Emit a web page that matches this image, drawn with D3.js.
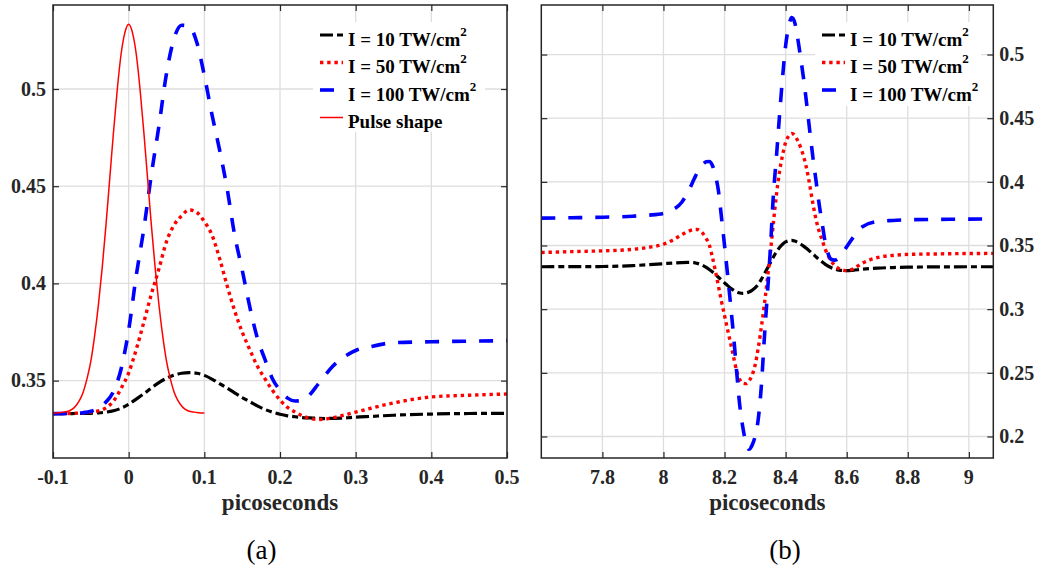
<!DOCTYPE html>
<html lang="en">

<head>
    <meta charset="UTF-8">
    <title>Picoseconds</title>
    <style>
        body {
            margin: 0;
            background: #fff;
        }

        svg {
            display: block;
            font-family: 'Liberation Serif', 'Times New Roman', serif;
        }

        .tick line {
            stroke: #262626;
            stroke-width: 1.2;
        }

        .grid line {
            stroke: #dedede;
            stroke-width: 1.3;
        }

        .frame {
            fill: none;
            stroke: #262626;
            stroke-width: 1.5;
        }

        .ticklabel {
            fill: #262626;
            font-size: 20px;
            font-weight: bold;
        }

        .xlabel {
            fill: #262626;
            font-size: 23px;
            font-weight: bold;
        }

        .legend text {
            fill: #000;
            font-size: 19px;
            font-weight: bold;
        }

        .caption {
            fill: #000;
            font-size: 27px;
        }
    </style>
</head>

<body>
    <div id="chart"></div>
</body>

</html>
<script src="https://cdnjs.cloudflare.com/ajax/libs/d3/7.8.5/d3.min.js"></script>
<script>
    // ---- data (a) ----
    const leftTime = [-0.10, -0.09, -0.08, -0.07, -0.06, -0.05, -0.04, -0.03, -0.02, -0.01,
        0.00, 0.01, 0.02, 0.03, 0.04, 0.05, 0.06, 0.07, 0.08, 0.09,
        0.10, 0.11, 0.12, 0.13, 0.14, 0.15, 0.16, 0.17, 0.18, 0.19,
        0.20, 0.21, 0.22, 0.23, 0.24, 0.25, 0.26, 0.27, 0.28, 0.29,
        0.30, 0.32, 0.35, 0.40, 0.45, 0.50];
    const leftI10 = [0.3330, 0.3330, 0.3330, 0.3331, 0.3331, 0.3332, 0.3334, 0.3338, 0.3345, 0.3358,
        0.3378, 0.3405, 0.3432, 0.3462, 0.3490, 0.3512, 0.3528, 0.3538, 0.3541, 0.3538,
        0.3527, 0.3508, 0.3485, 0.3462, 0.3437, 0.3413, 0.3392, 0.3370, 0.3352, 0.3338,
        0.3327, 0.3319, 0.3314, 0.3310, 0.3308, 0.3306, 0.3305, 0.3306, 0.3307, 0.3309,
        0.3312, 0.3316, 0.3322, 0.3328, 0.3331, 0.3332];
    const leftI50 = [0.3330, 0.3330, 0.3331, 0.3332, 0.3335, 0.3338, 0.3344, 0.3360, 0.3395, 0.3460,
        0.3540, 0.3660, 0.3800, 0.3945, 0.4075, 0.4215, 0.4300, 0.4348, 0.4378, 0.4365,
        0.4318, 0.4250, 0.4130, 0.3990, 0.3860, 0.3750, 0.3660, 0.3575, 0.3510, 0.3450,
        0.3400, 0.3362, 0.3338, 0.3318, 0.3305, 0.3300, 0.3302, 0.3309, 0.3318, 0.3328,
        0.3338, 0.3358, 0.3385, 0.3416, 0.3425, 0.3431];
    const leftI100 = [0.3330, 0.3330, 0.3331, 0.3332, 0.3335, 0.3342, 0.3358, 0.3390, 0.3445, 0.3560,
        0.3760, 0.4040, 0.4280, 0.4560, 0.4810, 0.5080, 0.5260, 0.5328, 0.5322, 0.5240,
        0.5070, 0.4870, 0.4690, 0.4490, 0.4250, 0.4070, 0.3880, 0.3720, 0.3610, 0.3510,
        0.3450, 0.3410, 0.3395, 0.3398, 0.3430, 0.3480, 0.3530, 0.3575, 0.3610, 0.3635,
        0.3655, 0.3675, 0.3695, 0.3700, 0.3703, 0.3705];
    const pulseTime = [-0.100, -0.095, -0.090, -0.085, -0.080, -0.075, -0.070, -0.065, -0.060, -0.055,
        -0.050, -0.045, -0.040, -0.035, -0.030, -0.025, -0.020, -0.015, -0.010, -0.005,
        0.000, 0.005, 0.010, 0.015, 0.020, 0.025, 0.030, 0.035, 0.040, 0.045,
        0.050, 0.055, 0.060, 0.065, 0.070, 0.075, 0.080, 0.085, 0.090, 0.095, 0.100];
    const pulseShape = [0.3333, 0.3334, 0.3336, 0.3339, 0.3342, 0.3352, 0.3370, 0.3398, 0.3442, 0.3510,
        0.3600, 0.3730, 0.3890, 0.4080, 0.4300, 0.4540, 0.4780, 0.5000, 0.5180, 0.5290,
        0.5333, 0.5290, 0.5180, 0.5000, 0.4780, 0.4540, 0.4300, 0.4080, 0.3890, 0.3730,
        0.3600, 0.3510, 0.3442, 0.3398, 0.3370, 0.3352, 0.3342, 0.3339, 0.3336, 0.3334, 0.3333];

    // ---- data (b) ----
    const rightTime = [7.60, 7.70, 7.80, 7.90, 7.95, 8.00, 8.03, 8.06, 8.08,
        8.10, 8.11, 8.12, 8.13, 8.14, 8.15, 8.16, 8.17, 8.18, 8.19,
        8.20, 8.21, 8.22, 8.23, 8.24, 8.25, 8.26, 8.27, 8.28, 8.29,
        8.30, 8.31, 8.32, 8.33, 8.34, 8.35, 8.36, 8.37, 8.38, 8.39,
        8.40, 8.41, 8.42, 8.43, 8.44, 8.45, 8.46, 8.47, 8.48, 8.49,
        8.50, 8.51, 8.52, 8.53, 8.54, 8.55, 8.56, 8.57, 8.58, 8.59,
        8.60, 8.62, 8.65, 8.70, 8.75, 8.80, 8.90, 9.00, 9.08];
    const rightI10 = [0.3333, 0.3334, 0.3335, 0.3342, 0.3349, 0.3357, 0.3362, 0.3366, 0.3367,
        0.3365, 0.3360, 0.3353, 0.3342, 0.3328, 0.3312, 0.3294, 0.3273, 0.3251, 0.3229,
        0.3207, 0.3185, 0.3165, 0.3147, 0.3135, 0.3127, 0.3124, 0.3127, 0.3135, 0.3148,
        0.3167, 0.3195, 0.3232, 0.3275, 0.3320, 0.3365, 0.3410, 0.3450, 0.3485, 0.3510,
        0.3528, 0.3537, 0.3540, 0.3535, 0.3524, 0.3510, 0.3493, 0.3474, 0.3453, 0.3432,
        0.3410, 0.3390, 0.3370, 0.3352, 0.3337, 0.3325, 0.3316, 0.3309, 0.3305, 0.3303,
        0.3302, 0.3305, 0.3313, 0.3322, 0.3327, 0.3330, 0.3332, 0.3333, 0.3333];
    const rightI50 = [0.3445, 0.3452, 0.3458, 0.3470, 0.3485, 0.3510, 0.3542, 0.3585, 0.3610,
        0.3625, 0.3626, 0.3615, 0.3592, 0.3555, 0.3505, 0.3410, 0.3300, 0.3180, 0.3060,
        0.2950, 0.2840, 0.2730, 0.2620, 0.2510, 0.2445, 0.2418, 0.2415, 0.2435, 0.2480,
        0.2560, 0.2690, 0.2850, 0.3030, 0.3230, 0.3440, 0.3680, 0.3900, 0.4080, 0.4210,
        0.4310, 0.4360, 0.4380, 0.4365, 0.4320, 0.4265, 0.4190, 0.4090, 0.3960, 0.3820,
        0.3700, 0.3610, 0.3540, 0.3470, 0.3415, 0.3375, 0.3345, 0.3325, 0.3312, 0.3305,
        0.3302, 0.3315, 0.3360, 0.3405, 0.3422, 0.3430, 0.3434, 0.3437, 0.3438];
    const rightI100 = [0.3715, 0.3718, 0.3722, 0.3730, 0.3738, 0.3752, 0.3780, 0.3840, 0.3920,
        0.4020, 0.4070, 0.4110, 0.4140, 0.4157, 0.4160, 0.4130, 0.4050, 0.3930, 0.3720,
        0.3500, 0.3270, 0.3030, 0.2780, 0.2500, 0.2240, 0.2070, 0.1950, 0.1900, 0.1930,
        0.2000, 0.2130, 0.2380, 0.2760, 0.3110, 0.3470, 0.3900, 0.4200, 0.4520, 0.4820,
        0.5070, 0.5220, 0.5290, 0.5250, 0.5120, 0.4960, 0.4790, 0.4590, 0.4380, 0.4180,
        0.4000, 0.3820, 0.3670, 0.3520, 0.3430, 0.3390, 0.3385, 0.3395, 0.3420, 0.3455,
        0.3490, 0.3560, 0.3645, 0.3688, 0.3697, 0.3702, 0.3705, 0.3707, 0.3708];

    // ---- ticks / labels ----
    const leftXTicks = [-0.1, 0, 0.1, 0.2, 0.3, 0.4, 0.5];
    const leftYTicks = [0.35, 0.4, 0.45, 0.5];
    const rightXTicks = [7.8, 8, 8.2, 8.4, 8.6, 8.8, 9];
    const rightYTicks = [0.2, 0.25, 0.3, 0.35, 0.4, 0.45, 0.5];
    const intensityLabels = ['I = 10 TW/cm', 'I = 50 TW/cm', 'I = 100 TW/cm'];
    const pulseLabel = 'Pulse shape';
    const axisTitle = 'picoseconds';

    // line styles (thick MATLAB-like dash patterns)
    const styles = {
        i10: { color: '#000000', width: 3.2, dash: '13,4,6,4' },
        i50: { color: '#ff0000', width: 3.4, dash: '3.4,3.8' },
        i100: { color: '#0000ff', width: 3.6, dash: '14,13' },
        pulse: { color: '#ff0000', width: 1.5, dash: null }
    };

    const svg = d3.select('#chart').append('svg')
        .attr('width', 1044)
        .attr('height', 572);

    function zip(xs, ys) {
        return xs.map(function (x, i) { return [x, ys[i]]; });
    }

    // plain hyphen for negative numbers, like the original
    function fmt(d) {
        return String(+d.toFixed(3));
    }

    function drawPanel(p) {
        var xScale = d3.scaleLinear().domain(p.xDomain).range([p.left, p.right]);
        var yScale = d3.scaleLinear().domain(p.yDomain).range([p.bottom, p.top]);
        var g = svg.append('g');

        // grid
        var grid = g.append('g').attr('class', 'grid');
        grid.selectAll('.gx').data(p.xTicks).enter().append('line')
            .attr('x1', function (d) { return xScale(d); })
            .attr('x2', function (d) { return xScale(d); })
            .attr('y1', p.top).attr('y2', p.bottom);
        grid.selectAll('.gy').data(p.yTicks).enter().append('line')
            .attr('y1', function (d) { return yScale(d); })
            .attr('y2', function (d) { return yScale(d); })
            .attr('x1', p.left).attr('x2', p.right);

        // curves
        var clipId = 'clip' + p.name;
        svg.append('clipPath').attr('id', clipId).append('rect')
            .attr('x', p.left).attr('y', p.top)
            .attr('width', p.right - p.left).attr('height', p.bottom - p.top);
        var line = d3.line()
            .x(function (d) { return xScale(d[0]); })
            .y(function (d) { return yScale(d[1]); })
            .curve(d3.curveMonotoneX);
        var curves = g.append('g').attr('clip-path', 'url(#' + clipId + ')');
        p.series.forEach(function (s) {
            curves.append('path')
                .attr('d', line(s.points))
                .attr('fill', 'none')
                .attr('stroke', s.style.color)
                .attr('stroke-width', s.style.width)
                .attr('stroke-dasharray', s.style.dash);
        });

        // axes: tick marks pointing inward on all four sides
        var none = function () { return ''; };
        g.append('g').attr('transform', 'translate(0,' + p.bottom + ')')
            .call(d3.axisBottom(xScale).tickValues(p.xTicks).tickSize(-6).tickFormat(none));
        g.append('g').attr('transform', 'translate(0,' + p.top + ')')
            .call(d3.axisTop(xScale).tickValues(p.xTicks).tickSize(-6).tickFormat(none));
        g.append('g').attr('transform', 'translate(' + p.left + ',0)')
            .call(d3.axisLeft(yScale).tickValues(p.yTicks).tickSize(-6).tickFormat(none));
        g.append('g').attr('transform', 'translate(' + p.right + ',0)')
            .call(d3.axisRight(yScale).tickValues(p.yTicks).tickSize(-6).tickFormat(none));
        g.selectAll('.domain').remove();

        // tick labels
        var labels = g.append('g');
        labels.selectAll('.xl').data(p.xTicks).enter().append('text')
            .attr('class', 'ticklabel')
            .attr('x', function (d) { return xScale(d); })
            .attr('y', p.bottom + 26)
            .attr('text-anchor', 'middle')
            .text(fmt);
        labels.selectAll('.yl').data(p.yTicks).enter().append('text')
            .attr('class', 'ticklabel')
            .attr('x', p.yLabelSide === 'left' ? p.left - 7 : p.right + 6)
            .attr('y', function (d) { return yScale(d); })
            .attr('dy', '0.34em')
            .attr('text-anchor', p.yLabelSide === 'left' ? 'end' : 'start')
            .text(fmt);

        // frame
        g.append('rect').attr('class', 'frame')
            .attr('x', p.left).attr('y', p.top)
            .attr('width', p.right - p.left).attr('height', p.bottom - p.top);

        // x title + caption
        g.append('text').attr('class', 'xlabel')
            .attr('x', (p.left + p.right) / 2).attr('y', 510)
            .attr('text-anchor', 'middle')
            .text(axisTitle);
        g.append('text').attr('class', 'caption')
            .attr('x', p.captionX).attr('y', 559)
            .attr('text-anchor', 'middle')
            .text(p.caption);

        // legend
        var lg = g.append('g').attr('class', 'legend');
        lg.append('rect')
            .attr('x', p.legend.x).attr('y', p.legend.y)
            .attr('width', p.legend.w).attr('height', p.legend.h)
            .attr('fill', '#fff');
        p.series.forEach(function (s, i) {
            var y = p.legend.y + 13 + i * 27.5;
            lg.append('line')
                .attr('x1', p.legend.x + 7).attr('x2', p.legend.x + 30)
                .attr('y1', y).attr('y2', y)
                .attr('stroke', s.style.color)
                .attr('stroke-width', s.style.width)
                .attr('stroke-dasharray', s.style.dash);
            var t = lg.append('text')
                .attr('x', p.legend.x + 35).attr('y', y + 10.5)
                .text(s.label);
            if (s.sup) {
                t.append('tspan').attr('dy', -10).attr('font-size', 13).text(s.sup);
            }
        });
    }

    drawPanel({
        name: 'a', left: 53, right: 507, top: 5, bottom: 458,
        xDomain: [-0.1, 0.5], yDomain: [0.3102, 0.5432],
        xTicks: leftXTicks, yTicks: leftYTicks, yLabelSide: 'left',
        caption: '(a)', captionX: 261.5,
        legend: { x: 313, y: 22, w: 172, h: 110 },
        series: [
            { points: zip(leftTime, leftI10), style: styles.i10, label: intensityLabels[0], sup: '2' },
            { points: zip(leftTime, leftI50), style: styles.i50, label: intensityLabels[1], sup: '2' },
            { points: zip(leftTime, leftI100), style: styles.i100, label: intensityLabels[2], sup: '2' },
            { points: zip(pulseTime, pulseShape), style: styles.pulse, label: pulseLabel, sup: null }
        ]
    });

    drawPanel({
        name: 'b', left: 541.3, right: 993.3, top: 5, bottom: 458,
        xDomain: [7.6, 9.08], yDomain: [0.1831, 0.5389],
        xTicks: rightXTicks, yTicks: rightYTicks, yLabelSide: 'right',
        caption: '(b)', captionX: 785,
        legend: { x: 815, y: 22, w: 166, h: 84 },
        series: [
            { points: zip(rightTime, rightI10), style: styles.i10, label: intensityLabels[0], sup: '2' },
            { points: zip(rightTime, rightI50), style: styles.i50, label: intensityLabels[1], sup: '2' },
            { points: zip(rightTime, rightI100), style: styles.i100, label: intensityLabels[2], sup: '2' }
        ]
    });
</script>
